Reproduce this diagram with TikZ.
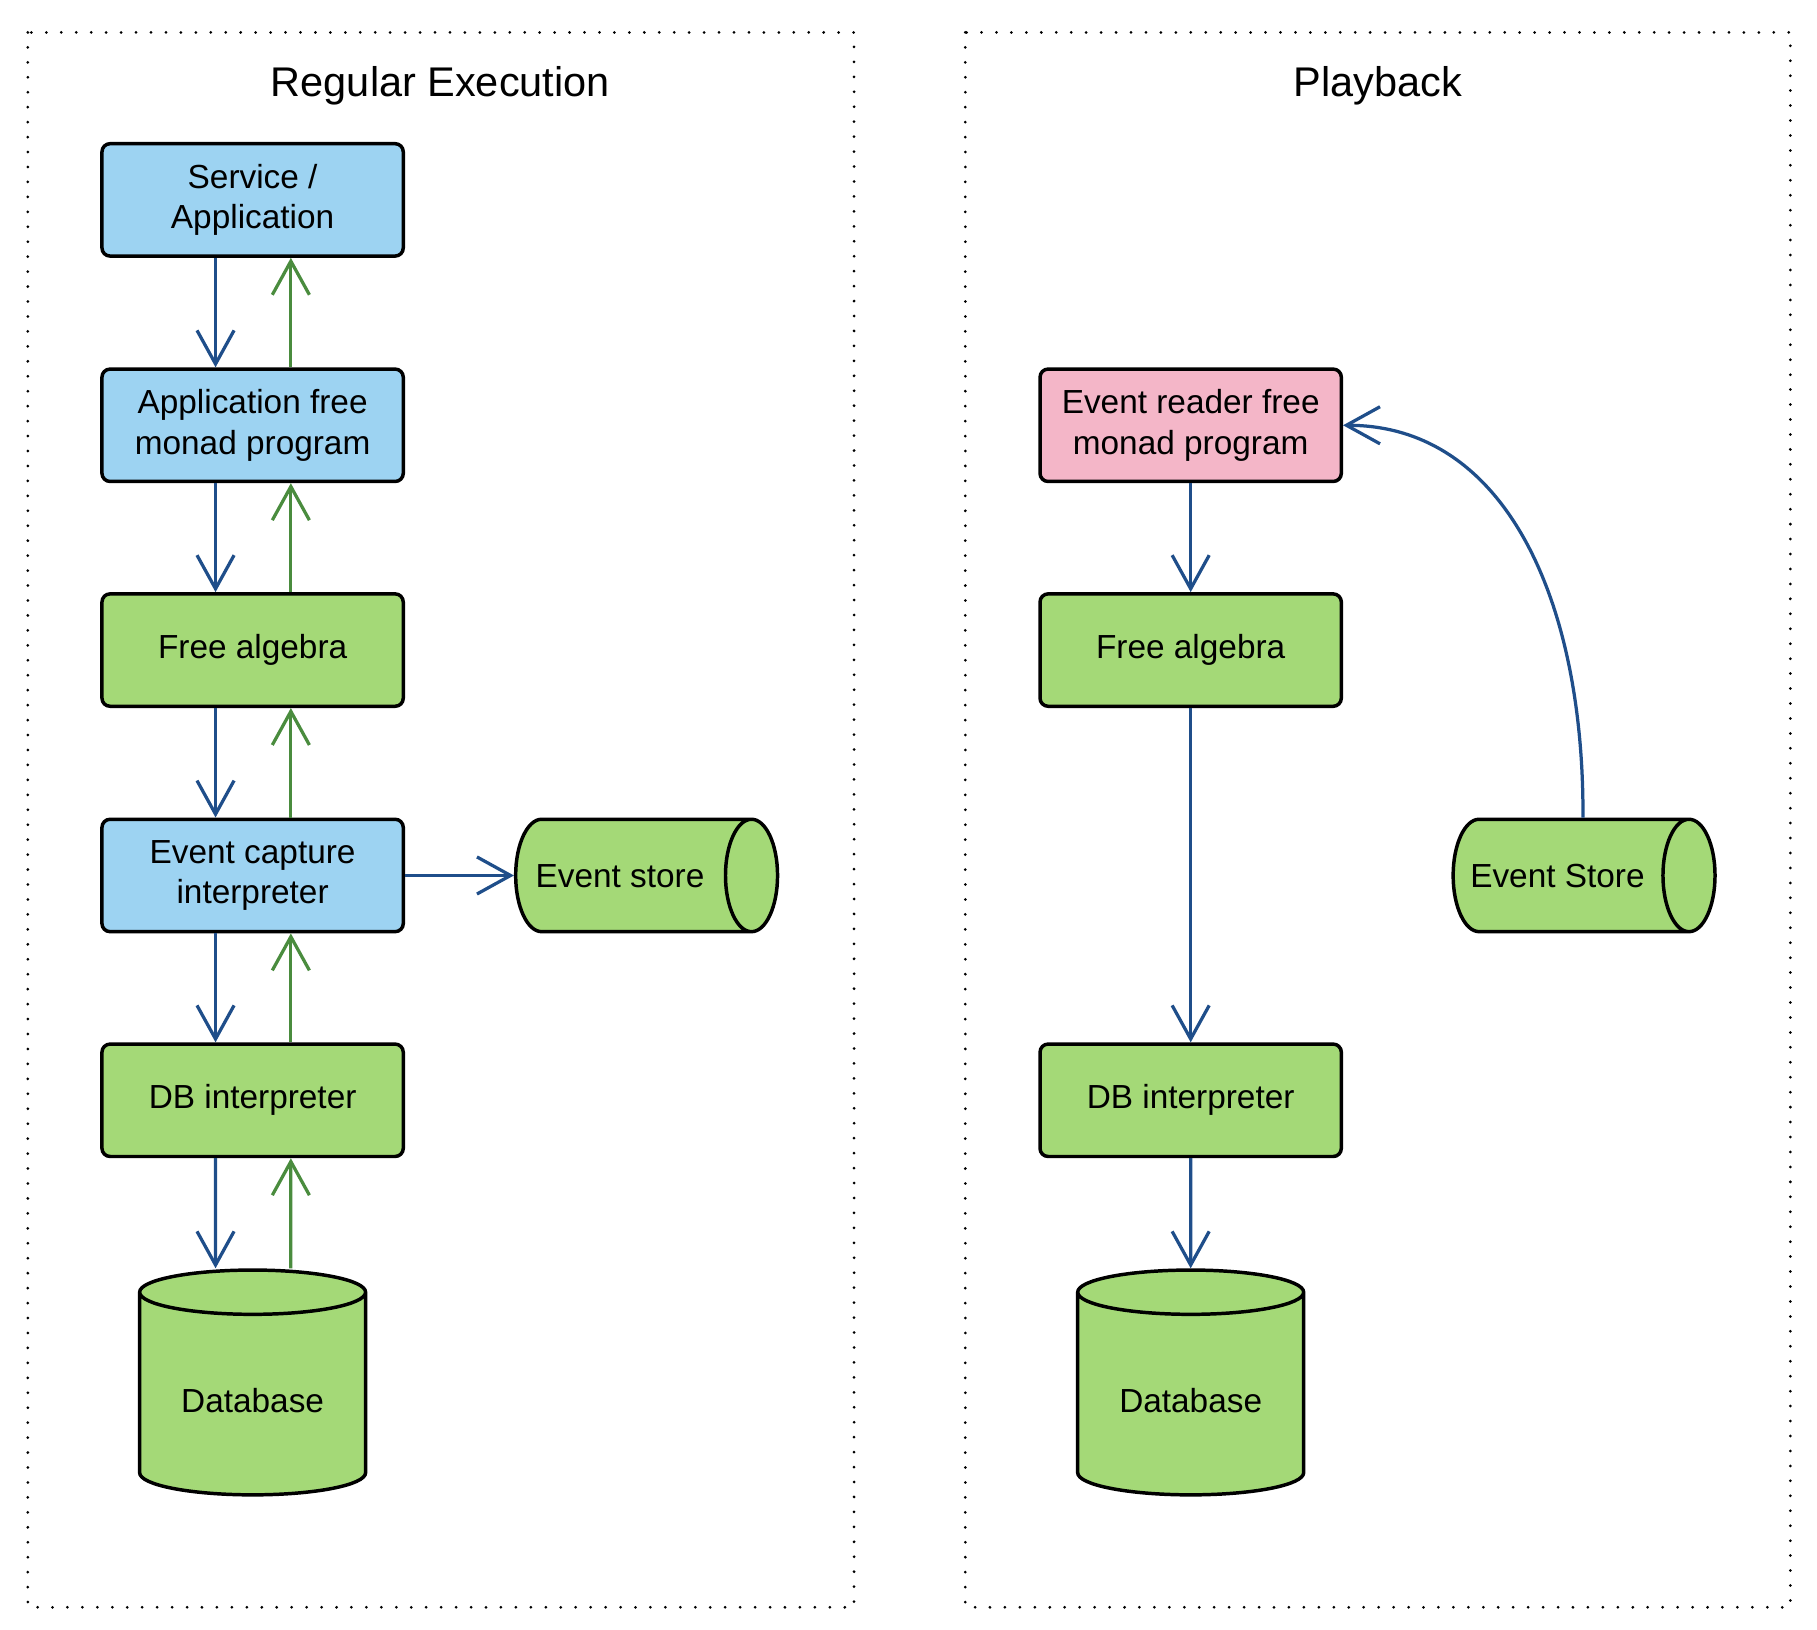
\documentclass[tikz,border=0pt]{standalone}
\usepackage{fontspec}
\setmainfont{Liberation Sans}
\usetikzlibrary{shapes.geometric,arrows.meta}
\definecolor{boxblue}{RGB}{157,211,242}
\definecolor{boxgreen}{RGB}{164,217,119}
\definecolor{boxpink}{RGB}{244,182,200}
\definecolor{flowblue}{RGB}{31,78,138}
\definecolor{flowgreen}{RGB}{74,140,62}
\tikzset{every picture/.style={line width=1.4pt}}
\tikzset{
  stepbox/.style={draw,line width=1.5pt,rounded corners=3.5pt,minimum width=130pt,minimum height=48.5pt,inner sep=0pt,align=center,font=\fontsize{14.4}{17.5}\selectfont},
  bluebox/.style={stepbox,fill=boxblue},
  greenbox/.style={stepbox,fill=boxgreen},
  pinkbox/.style={stepbox,fill=boxpink},
  dbcan/.style={cylinder,shape border rotate=90,draw,line width=1.5pt,fill=boxgreen,minimum width=97.5pt,minimum height=97pt,aspect=0.31,inner sep=0pt,text height=15.5pt,text depth=0pt,anchor=shape center,font=\fontsize{14.4}{17.5}\selectfont},
  logcan/.style={cylinder,draw,line width=1.5pt,fill=boxgreen,minimum width=48.5pt,minimum height=113pt,aspect=2.14,inner sep=0pt,text height=10.5pt,text depth=0pt,anchor=shape center,font=\fontsize{14.4}{17.5}\selectfont},
  downflow/.style={draw=flowblue,-{Straight Barb[length=14.5pt,width=16pt]}},
  upflow/.style={draw=flowgreen,-{Straight Barb[length=14.5pt,width=16pt]}},
  frame/.style={line width=1.3pt,line cap=round,dash pattern=on 0pt off 6.45pt},
  heading/.style={font=\fontsize{17.9}{21}\selectfont}
}

\begin{document}
\begin{tikzpicture}[x=0.5pt,y=0.5pt,yscale=-1,xscale=1]
\useasboundingbox (0,0) rectangle (1568,1406);

%Shape: Frames
\draw [frame] (24,28) rectangle (737,1387);
\draw [frame] (833,28) rectangle (1545,1387);

% Text Node
\node [heading] (regtitle) at (380,74) {Regular Execution};
% Text Node
\node [heading] (playtitle) at (1189,74) {Playback};

%Shape: Rounded Rect (regular execution)
\node [bluebox] (svc) at (218,172.5) {Service /\\Application};
\node [bluebox] (appprog) at (218,367) {Application free\\monad program};
\node [greenbox] (leftalg) at (218,561) {Free algebra};
\node [bluebox] (capture) at (218,755.5) {Event capture\\interpreter};
\node [greenbox] (leftdbi) at (218,949.5) {DB interpreter};
%Shape: Can
\node [dbcan] (leftdb) at (218,1193) {Database};
\node [logcan] (capstore) at (558,755.5) {\hspace*{-11pt}Event store};

%Shape: Rounded Rect (playback)
\node [pinkbox] (readerprog) at (1027.5,367) {Event reader free\\monad program};
\node [greenbox] (rightalg) at (1027.5,561) {Free algebra};
\node [greenbox] (rightdbi) at (1027.5,949.5) {DB interpreter};
%Shape: Can
\node [dbcan] (rightdb) at (1027.5,1193) {Database};
\node [logcan] (replaystore) at (1367,755.5) {\hspace*{-11pt}Event Store};

%Straight Lines (calls down)
\draw [downflow] ([xshift=-16pt]svc.south) -- ([xshift=-16pt]appprog.north);
\draw [downflow] ([xshift=-16pt]appprog.south) -- ([xshift=-16pt]leftalg.north);
\draw [downflow] ([xshift=-16pt]leftalg.south) -- ([xshift=-16pt]capture.north);
\draw [downflow] ([xshift=-16pt]capture.south) -- ([xshift=-16pt]leftdbi.north);
\draw [downflow] ([xshift=-16pt]leftdbi.south) -- ([xshift=-16pt]leftdb.north);
%Straight Lines (results up)
\draw [upflow] ([xshift=16.5pt]appprog.north) -- ([xshift=16.5pt]svc.south);
\draw [upflow] ([xshift=16.5pt]leftalg.north) -- ([xshift=16.5pt]appprog.south);
\draw [upflow] ([xshift=16.5pt]capture.north) -- ([xshift=16.5pt]leftalg.south);
\draw [upflow] ([xshift=16.5pt]leftdbi.north) -- ([xshift=16.5pt]capture.south);
\draw [upflow] ([xshift=16.5pt]leftdb.north) -- ([xshift=16.5pt]leftdbi.south);
%Straight Lines
\draw [downflow] (capture.east) -- (capstore.west);

%Straight Lines (playback)
\draw [downflow] (readerprog.south) -- (rightalg.north);
\draw [downflow] (rightalg.south) -- (rightdbi.north);
\draw [downflow] (rightdbi.south) -- (rightdb.north);
%Curve Lines
\draw [downflow] ([xshift=5.5pt]replaystore.north) .. controls (1367,520) and (1300,367) .. (readerprog.east);

\end{tikzpicture}
\end{document}
